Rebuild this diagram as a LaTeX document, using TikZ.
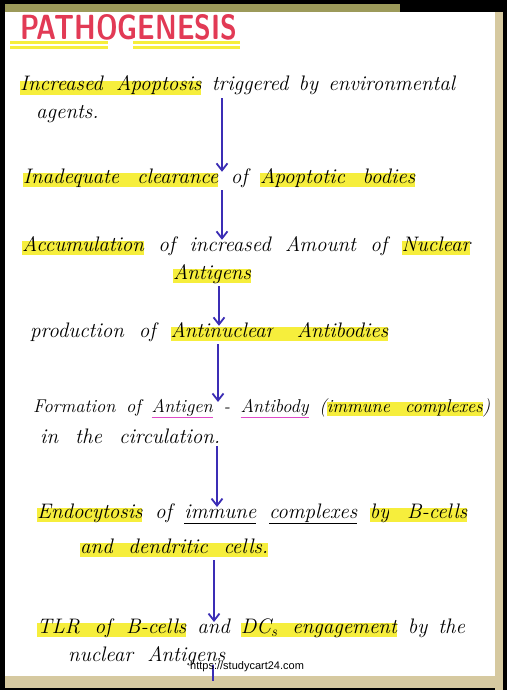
\documentclass[tikz,border=0pt]{standalone}
\usepackage{fontspec}
\usepackage{graphicx}
\usetikzlibrary{arrows.meta}
\newfontfamily\wmfont{Liberation Sans}
\definecolor{marker}{HTML}{F6EE3C}
\definecolor{inkblue}{HTML}{3B2DB5}
\definecolor{titlered}{HTML}{E23A55}
\definecolor{pinkline}{HTML}{E04AC8}
\definecolor{tape}{HTML}{D6C9A0}
\definecolor{olivetape}{HTML}{9C9A5A}
% marker highlight behind a word, and a highlighted stretchable space
\newcommand\hlt[1]{\sbox0{#1}\rlap{\color{marker}\rule[-4pt]{\wd0}{14pt}}\usebox0}
\newcommand\hsp{{\color{marker}\leaders\hrule height 10pt depth 4pt\hskip\fontdimen2\font plus 2\fontdimen3\font}}
\newcommand\uln[2][black]{\sbox0{#2}\rlap{\color{#1}\rule[-6pt]{\wd0}{1.4pt}}\usebox0}
\begin{document}
\begin{tikzpicture}[x=1pt,y=-1pt,
    hand/.style={anchor=base west,inner sep=0pt,font=\fontsize{21}{24}\selectfont\itshape},
    flow/.style={inkblue,line width=1.8pt,shorten <=3pt,shorten >=-4pt,-{Straight Barb[length=7pt,width=11pt]}},
    markline/.style={marker,line width=3pt}]
  \useasboundingbox (0,0) rectangle (507,690);
  % photo border and page
  \fill[black] (0,0) rectangle (507,690);
  \fill[olivetape] (5,4) rectangle (400,12);
  \fill[tape] (495,12) rectangle (503,690);
  \fill[tape] (5,674) rectangle (495,688);
  \fill[white] (5,12) rectangle (495,676);

  % title
  \node[anchor=north west,inner sep=0pt,text=titlered] (title) at (20,14)
    {\resizebox{217pt}{25pt}{\sffamily\bfseries PATHOGENESIS}};
  \foreach \y in {43,48} {
      \draw[markline] (10,\y) -- (108,\y);
      \draw[markline] (133,\y) -- (240,\y);
    }

  \node[hand] (incr) at (20,91) {\makebox[435pt][s]{\hlt{Increased}\hsp\hlt{Apoptosis} triggered by environmental}};
  \node[hand] (agents) at (36,118) {agents.};

  \node[hand] (inadq) at (23,183) {\makebox[392pt][s]{\hlt{Inadequate}\hsp\hlt{clearance} of \hlt{Apoptotic}\hsp\hlt{bodies}}};

  \node[hand] (accum) at (22,251) {\makebox[448pt][s]{\hlt{Accumulation} of increased Amount of \hlt{Nuclear}}};
  \node[hand] (antig) at (173,279) {\hlt{Antigens}};

  \node[hand] (prod) at (30,337) {\makebox[358pt][s]{production of \hlt{Antinuclear}\hsp\hlt{Antibodies}}};

  \node[hand,font=\fontsize{18.5}{22}\selectfont\itshape] (form) at (33,412) {\makebox[457pt][s]{Formation of \uln[pinkline]{Antigen} - \uln[pinkline]{Antibody} (\hlt{immune}\hsp\hlt{complexes})}};
  \node[hand] (circ) at (40,443) {\makebox[180pt][s]{in the circulation.}};

  \node[hand] (endo) at (37,518) {\makebox[430pt][s]{\hlt{Endocytosis} of \uln{immune} \uln{complexes} \hlt{by}\hsp\hlt{B-cells}}};
  \node[hand] (dend) at (80,553) {\makebox[188pt][s]{\hlt{and}\hsp\hlt{dendritic}\hsp\hlt{cells.}}};

  \node[hand] (tlr) at (37,633) {\makebox[428pt][s]{\hlt{TLR}\hsp\hlt{of}\hsp\hlt{B-cells} and \hlt{DC\textsubscript{s}}\hsp\hlt{engagement} by the}};
  \node[hand] (nucl) at (68,661) {\makebox[157pt][s]{nuclear Antigens}};

  % arrows
  \foreach \a/\b/\x in {incr/inadq/222, inadq/accum/222, antig/prod/219, prod/form/218, circ/endo/217, dend/tlr/214}
    \draw[flow] (\a.south -| \x,0) -- (\b.north -| \x,0);
  \coordinate (tail) at (213,681);
  \draw[inkblue,line width=1.8pt] (nucl.south -| tail) -- (tail);

  \node[anchor=base west,inner sep=0pt,font=\wmfont\fontsize{11}{13}\selectfont] (wm) at (190,669) {https://studycart24.com};
\end{tikzpicture}
\end{document}
